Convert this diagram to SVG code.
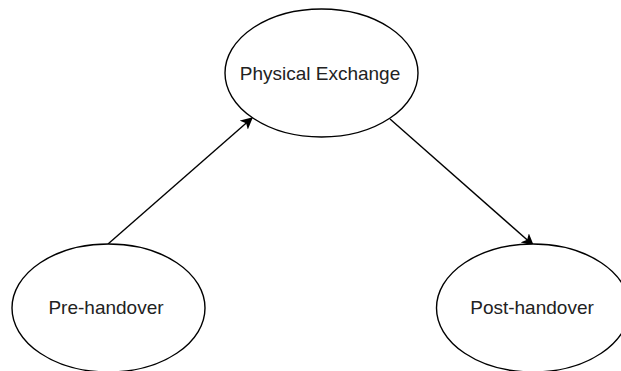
<svg xmlns="http://www.w3.org/2000/svg" width="621" height="371" viewBox="0 0 621 371">
  <style>
    .node ellipse { fill: #ffffff; stroke: #000000; stroke-width: 1.4; }
    .node text { font-family: "Liberation Sans", Arial, sans-serif; font-size: 19px; fill: #222222; text-anchor: middle; }
    .edge { fill: none; stroke: #000000; stroke-width: 1.4; marker-end: url(#arrow); }
  </style>
  <defs>
    <marker id="arrow" viewBox="0 0 10 10" refX="9" refY="5" markerWidth="12" markerHeight="12" markerUnits="userSpaceOnUse" orient="auto">
      <path d="M0,0 L10,5 L0,10 L2.5,5 Z" fill="#000000"/>
    </marker>
  </defs>
  <rect width="621" height="371" fill="#ffffff"/>
  <g id="connectors">
    <line class="edge" x1="108" y1="244" x2="252" y2="118"/>
    <line class="edge" x1="390" y1="119" x2="533" y2="245"/>
  </g>
  <g id="physical-exchange" class="node">
    <ellipse cx="321.5" cy="73" rx="96.5" ry="64"/>
    <text x="320" y="80">Physical Exchange</text>
  </g>
  <g id="pre-handover" class="node">
    <ellipse cx="108.5" cy="308" rx="96.5" ry="64"/>
    <text x="106" y="314">Pre-handover</text>
  </g>
  <g id="post-handover" class="node">
    <ellipse cx="533" cy="308" rx="96.5" ry="64"/>
    <text x="532" y="314">Post-handover</text>
  </g>
</svg>
